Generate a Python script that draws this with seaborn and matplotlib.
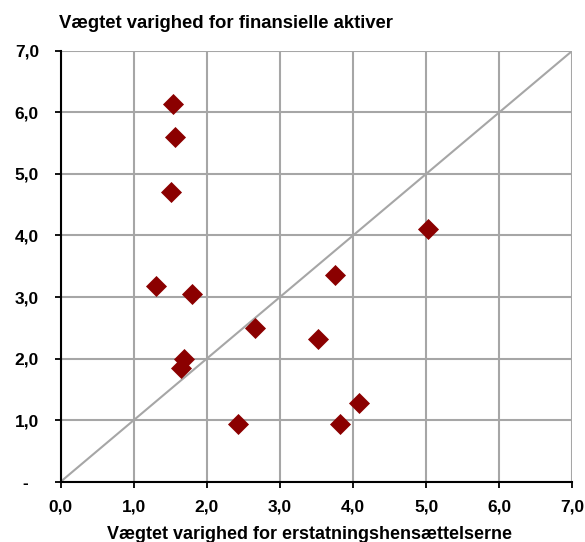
import matplotlib
matplotlib.use("Agg")
import matplotlib.pyplot as plt
import seaborn as sns
import pandas as pd
from matplotlib.ticker import FuncFormatter, MultipleLocator

# Data
x_vals = [1.54, 1.56, 1.51, 5.03, 1.30, 1.79, 3.76, 2.66, 3.52, 1.69, 1.65, 2.43, 4.08, 3.82]
y_vals = [6.13, 5.60, 4.70, 4.11, 3.18, 3.05, 3.35, 2.50, 2.31, 2.00, 1.85, 0.94, 1.27, 0.93]
diag = [0.0, 7.0]
title = "Vægtet varighed for finansielle aktiver"
xlabel = "Vægtet varighed for erstatningshensættelserne"

sns.set_theme(style="white")
plt.rcParams['font.family'] = ['Liberation Sans', 'DejaVu Sans']
plt.rcParams['text.color'] = 'black'
plt.rcParams['xtick.color'] = 'black'
plt.rcParams['ytick.color'] = 'black'
plt.rcParams['xtick.labelcolor'] = 'black'
plt.rcParams['ytick.labelcolor'] = 'black'

df = pd.DataFrame({"x": x_vals, "y": y_vals})

fig = plt.figure(figsize=(5.85, 5.42), dpi=100)
ax = fig.add_axes([0.104, 0.1115, 0.874, 0.7945])

ax.set_xlim(0, 7)
ax.set_ylim(0, 7)
ax.xaxis.set_major_locator(MultipleLocator(1))
ax.yaxis.set_major_locator(MultipleLocator(1))
ax.grid(True, color="#A6A6A6", linewidth=1.5, zorder=0)
ax.set_axisbelow(True)

ax.plot(diag, diag, color="#A6A6A6", linewidth=1.5, zorder=1)

sns.scatterplot(data=df, x="x", y="y", marker="D", color="#8B0000",
                s=115, linewidth=0, ax=ax, zorder=3, clip_on=False)

fmt_x = FuncFormatter(lambda v, p: f"{v:.1f}".replace(".", ","))
fmt_y = FuncFormatter(lambda v, p: "-  " if abs(v) < 1e-9 else f"{v:.1f}".replace(".", ","))
ax.xaxis.set_major_formatter(fmt_x)
ax.yaxis.set_major_formatter(fmt_y)

for side in ["top", "right"]:
    ax.spines[side].set_visible(False)
for side in ["left", "bottom"]:
    ax.spines[side].set_color("black")
    ax.spines[side].set_linewidth(1.5)

ax.tick_params(axis="both", which="major", direction="out", length=4.3, width=1.3,
               color="black", labelcolor="black", labelsize=12.5, bottom=True, left=True)
ax.tick_params(axis="x", pad=8.5)
ax.tick_params(axis="y", pad=11.5)
for lab in ax.get_xticklabels() + ax.get_yticklabels():
    lab.set_fontweight("bold")

ax.set_xlabel("")
ax.set_ylabel("")
fig.text(309.5 / 585, 2.7 / 542, xlabel, fontsize=13, fontweight="bold",
         ha="center", va="baseline", color="black")
fig.text(59 / 585, 1 - 28.3 / 542, title, fontsize=13.3, fontweight="bold",
         ha="left", va="baseline", color="black")

fig.savefig("out.png", dpi=100)
